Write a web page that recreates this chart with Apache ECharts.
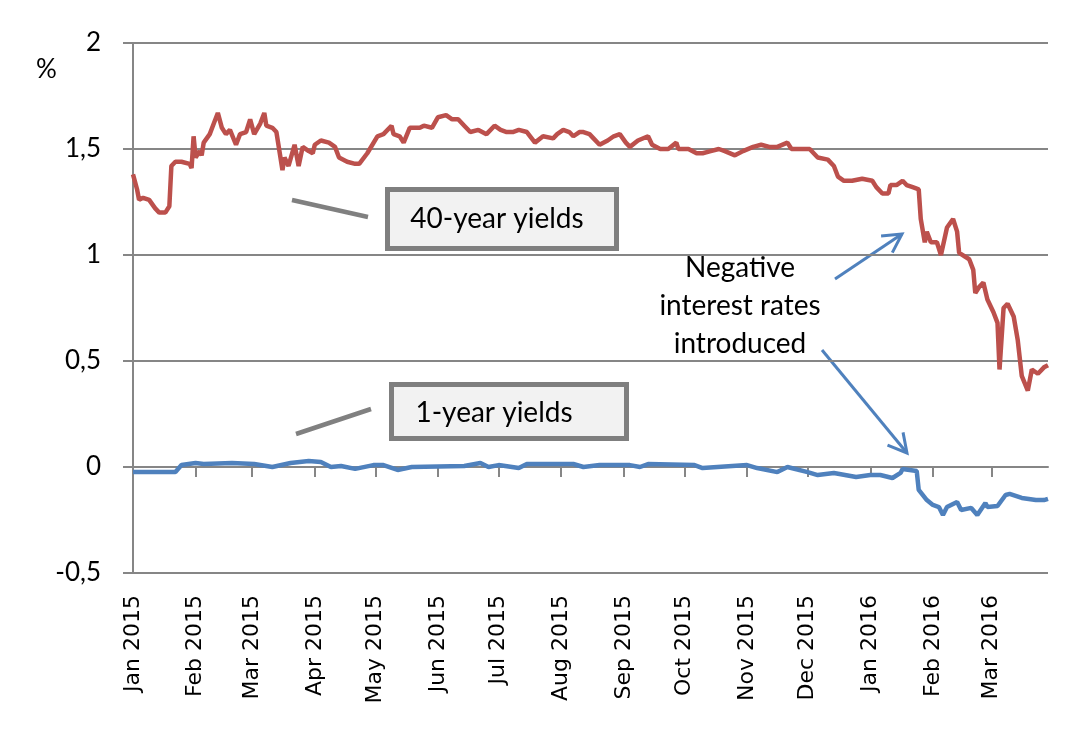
<!DOCTYPE html>
<html>
<head>
<meta charset="utf-8">
<script src="https://cdn.jsdelivr.net/npm/echarts@6/dist/echarts.min.js"></script>
<style>
html,body{margin:0;padding:0;background:#fff;}
#chart{width:1080px;height:750px;}
</style>
</head>
<body>
<div id="chart"></div>
<script>
// month ticks on the x axis
var monthStarts = ['2015-01-01','2015-02-01','2015-03-01','2015-04-01','2015-05-01','2015-06-01','2015-07-01',
    '2015-08-01','2015-09-01','2015-10-01','2015-11-01','2015-12-01','2016-01-01','2016-02-01','2016-03-01'];
var monthLabels = ['Jan 2015','Feb 2015','Mar 2015','Apr 2015','May 2015','Jun 2015','Jul 2015',
    'Aug 2015','Sep 2015','Oct 2015','Nov 2015','Dec 2015','Jan 2016','Feb 2016','Mar 2016'];

// 40-year yields (%)
var dates40 = ['2015-01-01','2015-01-03','2015-01-04','2015-01-06','2015-01-09','2015-01-12','2015-01-14','2015-01-17',
    '2015-01-19','2015-01-20','2015-01-22','2015-01-25','2015-01-29','2015-01-30','2015-01-31','2015-02-01','2015-02-03',
    '2015-02-04','2015-02-05','2015-02-08','2015-02-10','2015-02-12','2015-02-14','2015-02-16','2015-02-18','2015-02-21',
    '2015-02-23','2015-02-26','2015-02-28','2015-03-02','2015-03-05','2015-03-07','2015-03-08','2015-03-11','2015-03-13',
    '2015-03-16','2015-03-17','2015-03-19','2015-03-22','2015-03-24','2015-03-26','2015-03-29','2015-03-31','2015-04-01',
    '2015-04-04','2015-04-08','2015-04-11','2015-04-13','2015-04-17','2015-04-21','2015-04-23','2015-04-27','2015-05-02',
    '2015-05-05','2015-05-09','2015-05-10','2015-05-13','2015-05-15','2015-05-18','2015-05-23','2015-05-25','2015-05-29',
    '2015-06-01','2015-06-05','2015-06-08','2015-06-11','2015-06-14','2015-06-17','2015-06-21','2015-06-25','2015-06-29',
    '2015-07-02','2015-07-05','2015-07-08','2015-07-11','2015-07-15','2015-07-19','2015-07-23','2015-07-28','2015-07-30',
    '2015-08-02','2015-08-05','2015-08-07','2015-08-10','2015-08-12','2015-08-15','2015-08-17','2015-08-20','2015-08-24',
    '2015-08-27','2015-08-30','2015-09-02','2015-09-04','2015-09-08','2015-09-13','2015-09-15','2015-09-19','2015-09-23',
    '2015-09-27','2015-09-28','2015-10-03','2015-10-07','2015-10-10','2015-10-14','2015-10-18','2015-10-21','2015-10-26',
    '2015-10-30','2015-11-04','2015-11-08','2015-11-12','2015-11-16','2015-11-21','2015-11-23','2015-11-27','2015-12-02',
    '2015-12-06','2015-12-11','2015-12-14','2015-12-16','2015-12-19','2015-12-23','2015-12-28','2016-01-02','2016-01-04',
    '2016-01-07','2016-01-10','2016-01-11','2016-01-14','2016-01-17','2016-01-19','2016-01-22','2016-01-25','2016-01-26',
    '2016-01-28','2016-01-29','2016-01-31','2016-02-03','2016-02-05','2016-02-08','2016-02-11','2016-02-13','2016-02-14',
    '2016-02-19','2016-02-21','2016-02-22','2016-02-24','2016-02-26','2016-02-28','2016-03-02','2016-03-04','2016-03-05',
    '2016-03-07','2016-03-09','2016-03-12','2016-03-14','2016-03-16','2016-03-19','2016-03-21','2016-03-24','2016-03-27',
    '2016-03-29'];
var yields40 = [1.38,1.31,1.26,1.27,1.26,1.22,1.20,1.20,
    1.23,1.42,1.44,1.44,1.43,1.41,1.56,1.46,1.49,
    1.47,1.53,1.57,1.62,1.67,1.60,1.57,1.59,1.52,
    1.57,1.58,1.64,1.57,1.62,1.67,1.61,1.60,1.58,
    1.40,1.46,1.42,1.52,1.42,1.51,1.49,1.48,1.52,
    1.54,1.53,1.51,1.46,1.44,1.43,1.43,1.48,1.56,
    1.57,1.61,1.57,1.56,1.53,1.60,1.60,1.61,1.60,
    1.65,1.66,1.64,1.64,1.61,1.58,1.59,1.57,1.61,
    1.59,1.58,1.58,1.59,1.58,1.53,1.56,1.55,1.57,
    1.59,1.58,1.56,1.58,1.58,1.57,1.55,1.52,1.54,
    1.56,1.57,1.53,1.51,1.54,1.56,1.52,1.50,1.50,
    1.53,1.50,1.50,1.48,1.48,1.49,1.50,1.49,1.47,
    1.49,1.51,1.52,1.51,1.51,1.53,1.50,1.50,1.50,
    1.46,1.45,1.42,1.37,1.35,1.35,1.36,1.35,1.32,
    1.29,1.29,1.33,1.33,1.35,1.33,1.32,1.31,1.17,
    1.06,1.11,1.06,1.06,1.00,1.13,1.17,1.11,1.01,
    0.98,0.93,0.82,0.85,0.87,0.79,0.73,0.68,0.46,
    0.75,0.77,0.71,0.60,0.43,0.36,0.46,0.44,0.47,
    0.48];

// 1-year yields (%)
var dates1 = ['2015-01-01','2015-01-22','2015-01-25','2015-02-01','2015-02-05','2015-02-19','2015-03-02','2015-03-11',
    '2015-03-20','2015-03-29','2015-04-04','2015-04-09','2015-04-14','2015-04-21','2015-04-30','2015-05-05','2015-05-12',
    '2015-05-19','2015-06-14','2015-06-22','2015-06-26','2015-07-01','2015-07-11','2015-07-15','2015-08-07','2015-08-12',
    '2015-08-20','2015-09-04','2015-09-09','2015-09-13','2015-10-06','2015-10-10','2015-11-01','2015-11-06','2015-11-16',
    '2015-11-21','2015-12-01','2015-12-06','2015-12-14','2015-12-25','2016-01-01','2016-01-06','2016-01-12','2016-01-16',
    '2016-01-17','2016-01-24','2016-01-25','2016-01-29','2016-02-01','2016-02-04','2016-02-06','2016-02-08','2016-02-13',
    '2016-02-15','2016-02-20','2016-02-23','2016-02-27','2016-02-28','2016-03-04','2016-03-08','2016-03-10','2016-03-16',
    '2016-03-23','2016-03-27','2016-03-29'];
var yields1 = [-0.024,-0.024,0.009,0.019,0.014,0.019,0.014,0.000,
    0.019,0.028,0.024,0.000,0.005,-0.009,0.009,0.009,-0.014,
    0.000,0.005,0.019,0.000,0.009,-0.005,0.014,0.014,0.000,
    0.009,0.009,0.000,0.014,0.009,-0.005,0.009,-0.005,-0.024,
    0.000,-0.024,-0.038,-0.028,-0.047,-0.038,-0.038,-0.052,-0.028,
    -0.009,-0.019,-0.108,-0.156,-0.179,-0.189,-0.226,-0.189,-0.165,
    -0.203,-0.193,-0.226,-0.170,-0.189,-0.184,-0.132,-0.127,-0.146,
    -0.156,-0.156,-0.150];

function toTime(s) {
    var p = s.split('-');
    return new Date(+p[0], p[1] - 1, +p[2]).getTime();
}
function pairs(dates, vals) {
    return dates.map(function (d, i) { return [toTime(d), vals[i]]; });
}

var monthTimes = monthStarts.map(toTime);
var labelByTime = {};
monthTimes.forEach(function (t, i) { labelByTime[t] = monthLabels[i]; });

var xMin = toTime('2015-01-01');
var xMax = toTime('2016-03-29');
var gray = '#868686';
var arrowBlue = '#4f81bd';
var txtFont = 'Lato';

function arrow(x1, y1, x2, y2) {
    var a = Math.atan2(y1 - y2, x1 - x2);
    var L = 21, s = 0.5;
    return {
        type: 'group', z: 100,
        children: [
            { type: 'line', shape: { x1: x1, y1: y1, x2: x2, y2: y2 },
              style: { stroke: arrowBlue, lineWidth: 3 } },
            { type: 'polyline',
              shape: { points: [
                  [x2 + L * Math.cos(a + s), y2 + L * Math.sin(a + s)],
                  [x2, y2],
                  [x2 + L * Math.cos(a - s), y2 + L * Math.sin(a - s)]
              ] },
              style: { stroke: arrowBlue, lineWidth: 3, fill: null } }
        ]
    };
}

var myChart = echarts.init(document.getElementById('chart'));

var option = {
    backgroundColor: '#fff',
    animation: false,
    grid: { left: 133, right: 32, top: 43, bottom: 177 },
    xAxis: [{
        type: 'value',
        min: xMin,
        max: xMax,
        position: 'bottom',
        axisLine: { onZero: true, lineStyle: { color: gray, width: 2 } },
        axisTick: { show: true, customValues: monthTimes, length: 10, lineStyle: { color: gray, width: 2 } },
        axisLabel: { show: false },
        splitLine: { show: false }
    }, {
        type: 'value',
        min: xMin,
        max: xMax,
        position: 'bottom',
        axisLine: { show: false, onZero: false },
        axisTick: { show: false },
        axisLabel: {
            customValues: monthTimes,
            rotate: 90,
            margin: 22,
            fontFamily: 'DejaVu Sans',
            fontSize: 22,
            color: '#000',
            formatter: function (v) { return labelByTime[v] || ''; }
        },
        splitLine: { show: false }
    }],
    yAxis: {
        type: 'value',
        min: -0.5,
        max: 2,
        interval: 0.5,
        axisLine: { show: true, lineStyle: { color: gray, width: 2 } },
        axisTick: { show: true, length: 10, lineStyle: { color: gray, width: 2 } },
        splitLine: { lineStyle: { color: gray, width: 2 } },
        axisLabel: {
            margin: 32,
            fontFamily: txtFont,
            fontSize: 26,
            color: '#000',
            formatter: function (v) { return String(v).replace('.', ','); }
        }
    },
    series: [{
        name: '40-year yields',
        type: 'line',
        xAxisIndex: 0,
        showSymbol: false,
        data: pairs(dates40, yields40),
        lineStyle: { color: '#bc504c', width: 4.5 },
        itemStyle: { color: '#bc504c' }
    }, {
        name: '1-year yields',
        type: 'line',
        xAxisIndex: 0,
        showSymbol: false,
        data: pairs(dates1, yields1),
        lineStyle: { color: '#4f81bd', width: 4.5 },
        itemStyle: { color: '#4f81bd' }
    }],
    graphic: [
        { type: 'text', left: 36, top: 57, z: 100,
          style: { text: '%', fontFamily: txtFont, fontSize: 26, fill: '#000' } },
        { type: 'line', z: 100, shape: { x1: 292, y1: 200, x2: 368, y2: 217 },
          style: { stroke: '#808080', lineWidth: 4.5 } },
        { type: 'rect', z: 100, shape: { x: 387.5, y: 189.5, width: 229, height: 59 },
          style: { fill: '#f2f2f2', stroke: '#7f7f7f', lineWidth: 5 } },
        { type: 'text', z: 101, x: 497, y: 219,
          style: { text: '40-year yields', fontFamily: txtFont, fontSize: 28, fill: '#000',
                   align: 'center', verticalAlign: 'middle' } },
        { type: 'line', z: 100, shape: { x1: 296, y1: 434, x2: 371, y2: 409 },
          style: { stroke: '#808080', lineWidth: 4.5 } },
        { type: 'rect', z: 100, shape: { x: 391.5, y: 384.5, width: 235, height: 54 },
          style: { fill: '#f2f2f2', stroke: '#7f7f7f', lineWidth: 5 } },
        { type: 'text', z: 101, x: 494, y: 413,
          style: { text: '1-year yields', fontFamily: txtFont, fontSize: 28, fill: '#000',
                   align: 'center', verticalAlign: 'middle' } },
        { type: 'text', z: 101, x: 740, y: 306,
          style: { text: 'Negative\ninterest rates\nintroduced', fontFamily: txtFont, fontSize: 28,
                   lineHeight: 38, fill: '#000', align: 'center', verticalAlign: 'middle' } },
        arrow(835, 279, 902, 234),
        arrow(822, 350, 907, 453)
    ]
};

myChart.setOption(option);
window.onresize = function () {
    myChart.resize();
};
</script>
</body>
</html>
